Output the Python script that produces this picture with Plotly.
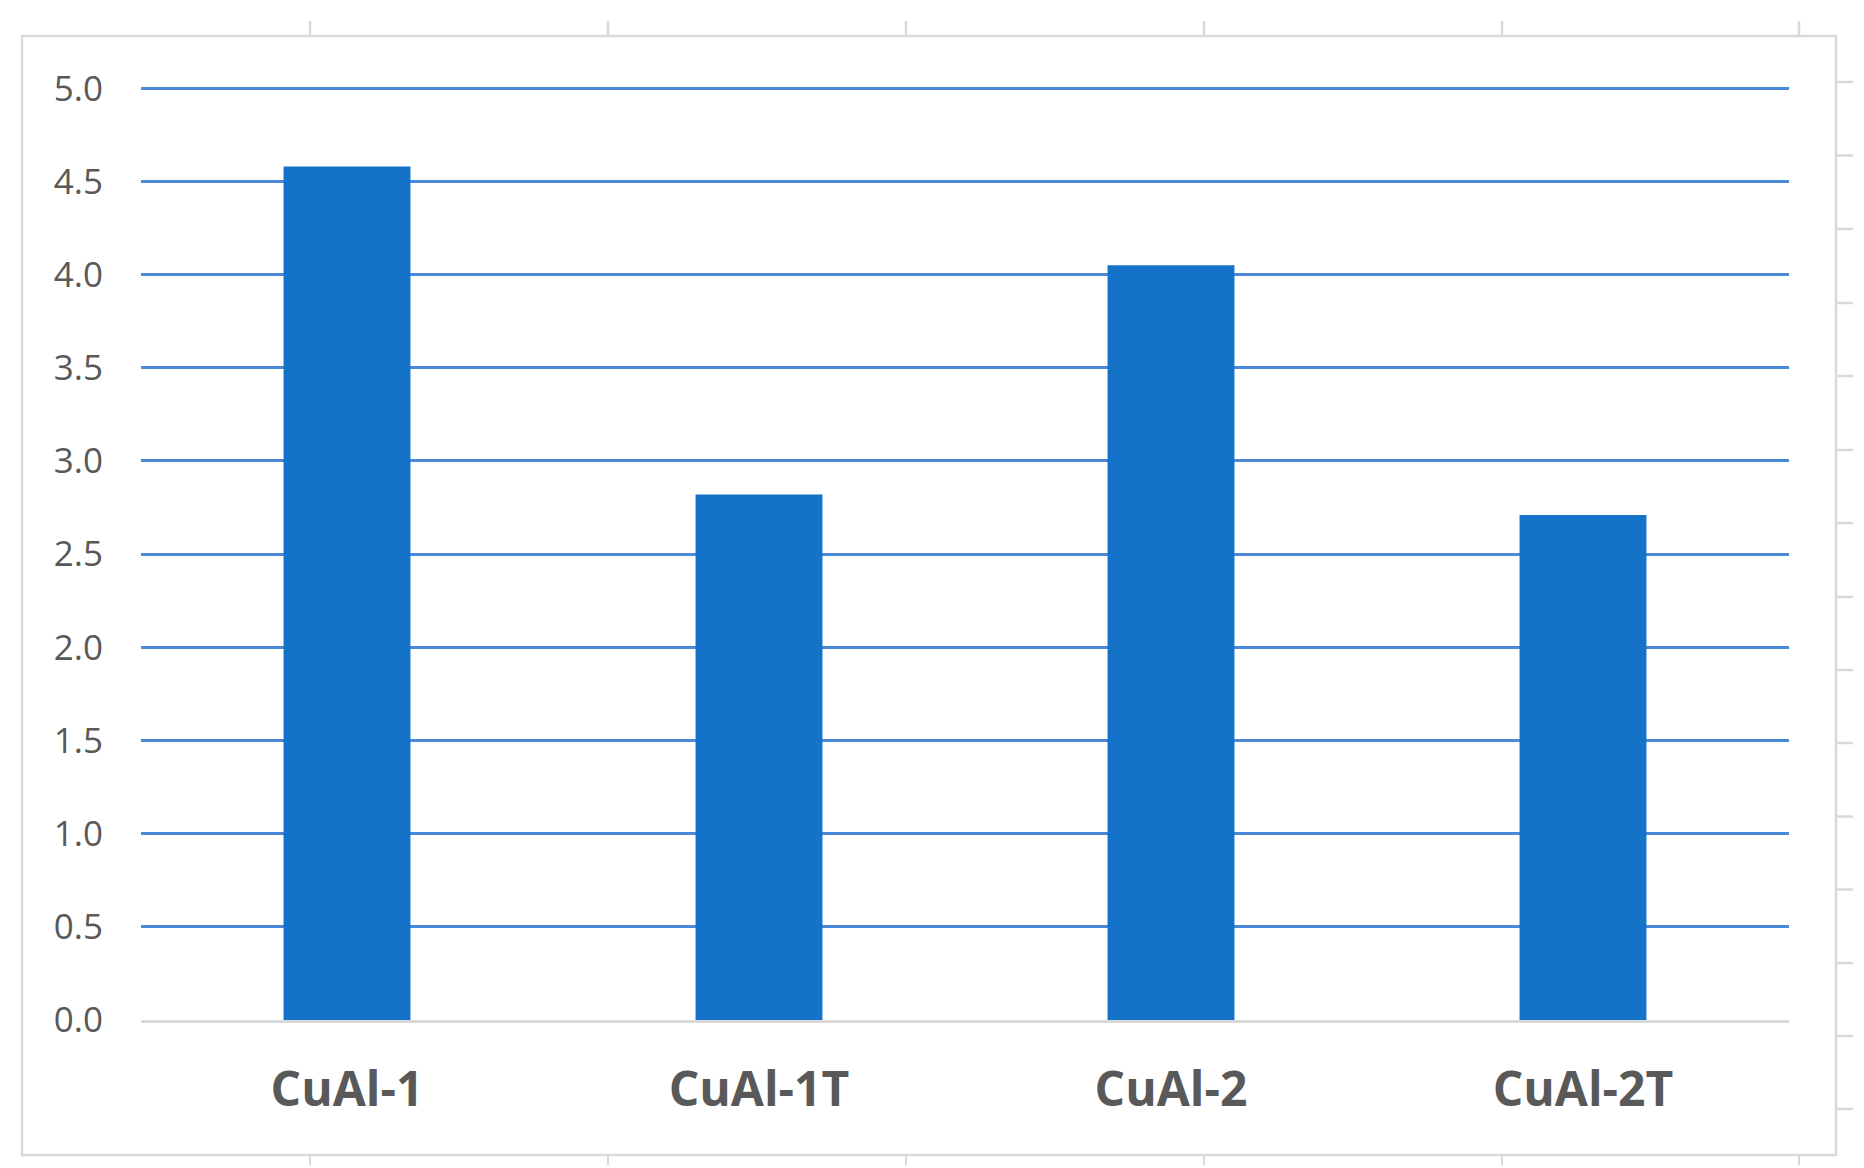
import plotly.graph_objects as go

# Data
categories = ["CuAl-1", "CuAl-1T", "CuAl-2", "CuAl-2T"]
values = [4.58, 2.82, 4.05, 2.71]
y_ticks = [0.0, 0.5, 1.0, 1.5, 2.0, 2.5, 3.0, 3.5, 4.0, 4.5, 5.0]
y_tick_labels = [f"{v:.1f}" for v in y_ticks]

W, H = 1864, 1168
L, R, T, B = 133, 83, 71, 156
PW, PH = W - L - R, H - T - B


def px(x):
    return (x - L) / PW


def py(y):
    return (H - B - y) / PH


fig = go.Figure()
fig.add_trace(go.Bar(
    x=categories, y=values, width=0.308,
    marker=dict(color="#1473C9", line=dict(width=0)),
))

GRAY = "#D9D9D9"
shapes = []
# outer frame of the original figure
shapes.append(dict(type="rect", xref="paper", yref="paper",
                   x0=px(14), x1=px(1828), y0=py(28), y1=py(1147),
                   line=dict(color=GRAY, width=2.5), layer="below"))
# decorative ticks around the frame (residual of source figure)
frame_tick_x = [302, 600, 898, 1196, 1494, 1791]
for xx in frame_tick_x:
    shapes.append(dict(type="line", xref="paper", yref="paper",
                       x0=px(xx), x1=px(xx), y0=py(13), y1=py(28),
                       line=dict(color=GRAY, width=2.5)))
    shapes.append(dict(type="line", xref="paper", yref="paper",
                       x0=px(xx), x1=px(xx), y0=py(1147), y1=py(1157),
                       line=dict(color=GRAY, width=2)))
frame_tick_y = [74, 147.5, 221, 295, 368, 442, 515, 589, 662, 735,
                808.5, 881.5, 955, 1028, 1101]
for yy in frame_tick_y:
    shapes.append(dict(type="line", xref="paper", yref="paper",
                       x0=px(1829), x1=px(1845), y0=py(yy), y1=py(yy),
                       line=dict(color=GRAY, width=2.5)))

fig.update_layout(
    width=W, height=H,
    margin=dict(l=L, r=R, t=T, b=B, pad=0),
    paper_bgcolor="white", plot_bgcolor="white",
    showlegend=False,
    shapes=shapes,
    font=dict(family="Open Sans", color="#595959"),
)
fig.update_xaxes(
    showgrid=False, showline=True, linecolor=GRAY, linewidth=3,
    ticks="", tickfont=dict(family="Open Sans", size=48, color="#595959", weight="bold"),
    ticklabelstandoff=25, zeroline=False,
)
fig.update_yaxes(
    range=[0, 5.05], tickvals=y_ticks, ticktext=y_tick_labels,
    showgrid=True, gridcolor="#4A89D8", gridwidth=2.5,
    zeroline=False, showline=False, ticks="",
    tickfont=dict(family="Open Sans", size=35, color="#595959"),
    ticklabelstandoff=37,
)

fig.write_html("out.html")
